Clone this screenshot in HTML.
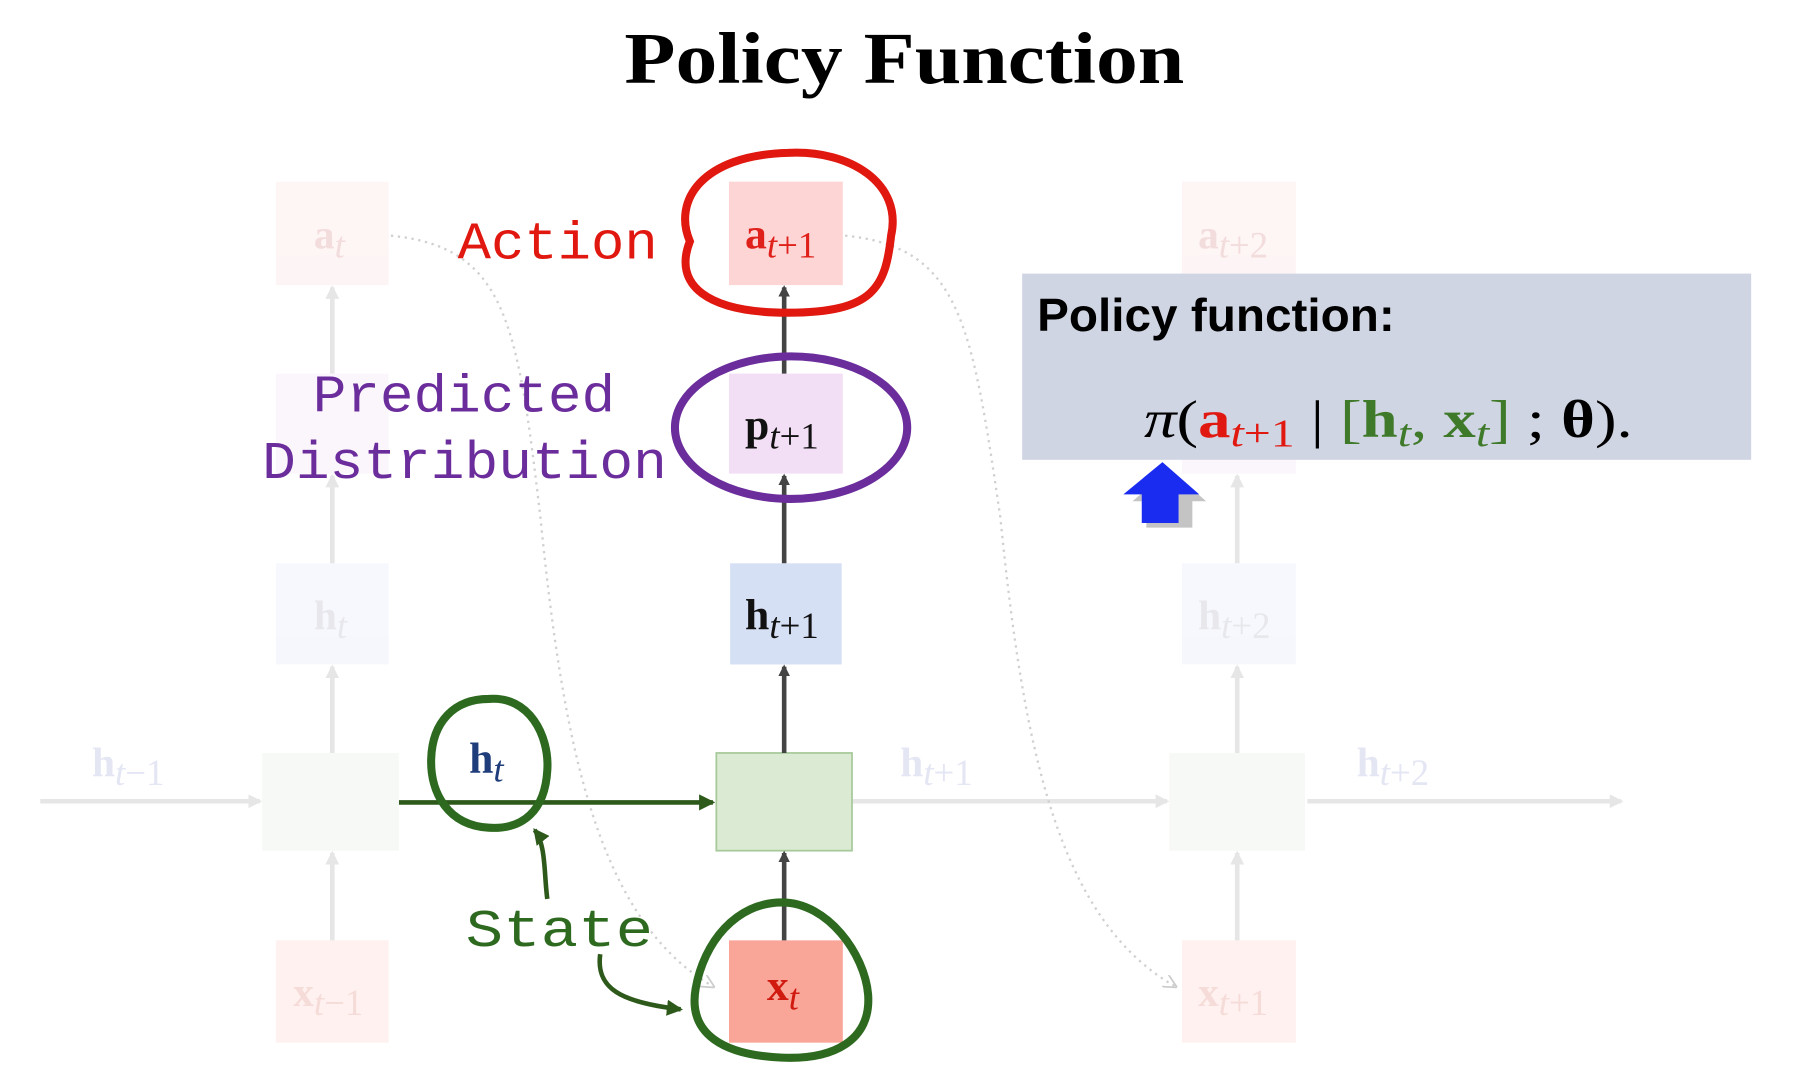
<!DOCTYPE html>
<html><head><meta charset="utf-8"><style>html,body{margin:0;padding:0;background:#fff;}svg{display:block}</style></head>
<body>
<svg width="1796" height="1076" viewBox="0 0 1562 936" preserveAspectRatio="none" xmlns="http://www.w3.org/2000/svg">
<defs>
<marker id="ad" markerWidth="10" markerHeight="10" refX="8" refY="5" orient="auto" markerUnits="userSpaceOnUse"><path d="M0,0 L10,5 L0,10 z" fill="#444"/></marker>
<marker id="af" markerWidth="12" markerHeight="12" refX="10" refY="6" orient="auto" markerUnits="userSpaceOnUse"><path d="M0,0 L12,6 L0,12 z" fill="#e6e6e6"/></marker>
<marker id="ag" markerWidth="14" markerHeight="14" refX="12" refY="7" orient="auto" markerUnits="userSpaceOnUse"><path d="M0,0 L14,7 L0,14 z" fill="#2d5a1b"/></marker>
<marker id="adot" markerWidth="12" markerHeight="12" refX="10" refY="6" orient="auto" markerUnits="userSpaceOnUse"><path d="M0,0 L12,6 L0,12" fill="none" stroke="#ccc" stroke-width="1.5"/></marker>
</defs>
<text x="543" y="72" font-family="Liberation Serif, serif" font-weight="bold" font-size="64" textLength="487" lengthAdjust="spacingAndGlyphs">Policy Function</text>

<g opacity="0.5">
<rect x="240" y="158" width="98" height="90" fill="#fdecec"/>
<rect x="240" y="325" width="98" height="87" fill="#f7eef9"/>
<rect x="240" y="490" width="98" height="88" fill="#eef1fb"/>
<rect x="228" y="655" width="119" height="85" fill="#f0f4ee"/>
<rect x="240" y="818" width="98" height="89" fill="#fde3df"/>
<rect x="1028" y="158" width="99" height="90" fill="#fdecec"/>
<rect x="1028" y="325" width="99" height="87" fill="#f7eef9"/>
<rect x="1028" y="490" width="99" height="88" fill="#eef1fb"/>
<rect x="1017" y="655" width="118" height="85" fill="#f0f4ee"/>
<rect x="1028" y="818" width="99" height="89" fill="#fde3df"/>
</g>
<g stroke="#e6e6e6" stroke-width="4" fill="none" marker-end="url(#af)">
<line x1="289" y1="818" x2="289" y2="742"/>
<line x1="289" y1="655" x2="289" y2="580"/>
<line x1="289" y1="490" x2="289" y2="414"/>
<line x1="289" y1="325" x2="289" y2="250"/>
<line x1="1076" y1="818" x2="1076" y2="742"/>
<line x1="1076" y1="655" x2="1076" y2="580"/>
<line x1="1076" y1="490" x2="1076" y2="414"/>
<line x1="35" y1="697" x2="226" y2="697"/>
<line x1="741" y1="697" x2="1015" y2="697"/>
<line x1="1137" y1="697" x2="1410" y2="697"/>
</g>
<g font-family="Liberation Serif, serif" font-size="36" fill="#f3dcdc" font-weight="bold">
<text x="273" y="216">a<tspan font-style="italic" font-weight="normal" font-size="32" dy="8">t</tspan></text>
<text x="1042" y="216">a<tspan font-weight="normal" font-size="32" dy="8"><tspan font-style="italic">t</tspan>+2</tspan></text>
<text x="273" y="547" fill="#e8e8ec">h<tspan font-style="italic" font-weight="normal" font-size="32" dy="8">t</tspan></text>
<text x="1042" y="547" fill="#e8e8ec">h<tspan font-weight="normal" font-size="32" dy="8"><tspan font-style="italic">t</tspan>+2</tspan></text>
<text x="80" y="675" fill="#e4e6f4">h<tspan font-weight="normal" font-size="32" dy="8"><tspan font-style="italic">t</tspan>−1</tspan></text>
<text x="783" y="675" fill="#e4e6f4">h<tspan font-weight="normal" font-size="32" dy="8"><tspan font-style="italic">t</tspan>+1</tspan></text>
<text x="1180" y="675" fill="#e4e6f4">h<tspan font-weight="normal" font-size="32" dy="8"><tspan font-style="italic">t</tspan>+2</tspan></text>
<text x="255" y="875" fill="#f6dcd8">x<tspan font-weight="normal" font-size="32" dy="8"><tspan font-style="italic">t</tspan>−1</tspan></text>
<text x="1042" y="875" fill="#f6dcd8">x<tspan font-weight="normal" font-size="32" dy="8"><tspan font-style="italic">t</tspan>+1</tspan></text>
</g>
<path d="M340,205 C440,215 450,280 470,450 C490,650 520,800 620,858" fill="none" stroke="#d0d0d0" stroke-width="2" stroke-dasharray="2,4" marker-end="url(#adot)"/>
<path d="M735,205 C835,215 845,280 870,450 C890,650 920,800 1022,858" fill="none" stroke="#d0d0d0" stroke-width="2" stroke-dasharray="2,4" marker-end="url(#adot)"/>

<rect x="634" y="158" width="99" height="90" fill="#fdd5d5"/>
<rect x="634" y="325" width="99" height="87" fill="#f3dff5"/>
<rect x="635" y="490" width="97" height="88" fill="#d6e0f5"/>
<rect x="623" y="655" width="118" height="85" fill="#dbead3" stroke="#a6c99a" stroke-width="1.5"/>
<rect x="634" y="818" width="99" height="89" fill="#f9a598"/>
<g stroke="#444" stroke-width="4" fill="none" marker-end="url(#ad)">
<line x1="682" y1="818" x2="682" y2="742"/>
<line x1="682" y1="655" x2="682" y2="580"/>
<line x1="682" y1="490" x2="682" y2="414"/>
<line x1="682" y1="325" x2="682" y2="250"/>
</g>
<line x1="347" y1="698" x2="620" y2="698" stroke="#2d5a1b" stroke-width="4" marker-end="url(#ag)"/>
<g font-family="Liberation Serif, serif" font-size="38" font-weight="bold">
<text x="648" y="216" fill="#e0201a">a<tspan font-weight="normal" font-size="32" dy="8"><tspan font-style="italic">t</tspan>+1</tspan></text>
<text x="648" y="382" fill="#111">p<tspan font-weight="normal" font-size="32" dy="8"><tspan font-style="italic">t</tspan>+1</tspan></text>
<text x="648" y="547" fill="#111">h<tspan font-weight="normal" font-size="32" dy="8"><tspan font-style="italic">t</tspan>+1</tspan></text>
<text x="667" y="870" fill="#d01a10">x<tspan font-weight="normal" font-style="italic" font-size="32" dy="8">t</tspan></text>
<text x="408" y="672" fill="#1f3d7a">h<tspan font-weight="normal" font-style="italic" font-size="32" dy="8">t</tspan></text>
</g>
<path d="M685,133 C740,130 785,160 775,205 C770,250 760,272 685,272 C615,272 585,248 600,210 C585,175 610,135 685,133 z" fill="none" stroke="#e0180f" stroke-width="7"/>
<ellipse cx="688" cy="372" rx="101" ry="62" fill="none" stroke="#6b2d9c" stroke-width="7"/>
<path d="M425,608 C460,605 478,640 476,670 C474,705 455,722 425,720 C390,718 374,690 375,660 C376,628 395,608 425,608 z" fill="none" stroke="#2d6a1f" stroke-width="7"/>
<path d="M680,785 C720,785 752,830 755,865 C758,905 725,922 680,920 C630,918 598,900 605,860 C612,820 640,785 680,785 z" fill="none" stroke="#2d6a1f" stroke-width="7"/>
<g font-family="Liberation Mono, DejaVu Sans Mono, monospace" font-size="46" lengthAdjust="spacingAndGlyphs">
<text x="398" y="225" fill="#e0180f" textLength="174" lengthAdjust="spacingAndGlyphs">Action</text>
<text x="272" y="358" fill="#6b2d9c" textLength="263" lengthAdjust="spacingAndGlyphs">Predicted</text>
<text x="228" y="416" fill="#6b2d9c" textLength="352" lengthAdjust="spacingAndGlyphs">Distribution</text>
<text x="405" y="823" fill="#2d6a1f" textLength="163" lengthAdjust="spacingAndGlyphs">State</text>
</g>
<path d="M476,782 C473,760 475,735 465,722" fill="none" stroke="#2d5a1b" stroke-width="4" marker-end="url(#ag)"/>
<path d="M522,830 C518,860 540,872 592,878" fill="none" stroke="#2d5a1b" stroke-width="4" marker-end="url(#ag)"/>
<rect x="889" y="238" width="634" height="162" fill="#d0d5e3"/>
<text x="902" y="288" font-family="Liberation Sans, sans-serif" font-weight="bold" font-size="40" fill="#000" textLength="311" lengthAdjust="spacingAndGlyphs">Policy function:</text>
<text x="995" y="380" font-family="Liberation Serif, serif" font-size="46" fill="#000" textLength="425" lengthAdjust="spacingAndGlyphs"><tspan font-style="italic">π</tspan>(<tspan fill="#e0180f" font-weight="bold">a</tspan><tspan fill="#e0180f" font-size="34" dy="8"><tspan font-style="italic">t</tspan>+1</tspan><tspan dy="-8"> | </tspan><tspan fill="#3f7a2a">[<tspan font-weight="bold">h</tspan><tspan font-style="italic" font-size="34" dy="8">t</tspan><tspan dy="-8">, </tspan><tspan font-weight="bold">x</tspan><tspan font-style="italic" font-size="34" dy="8">t</tspan><tspan dy="-8">]</tspan></tspan> ; <tspan font-weight="bold">θ</tspan>).</text>
<path d="M1017,459 L1037,459 L1037,436 L1049,436 L1017,408 L985,436 L997,436 L997,459 z" fill="#555" opacity="0.35"/>
<path d="M1011,402 L1043,430 L1025,430 L1025,455 L993,455 L993,430 L977,430 z" fill="#1a2cf0"/>
</svg>
</body></html>
